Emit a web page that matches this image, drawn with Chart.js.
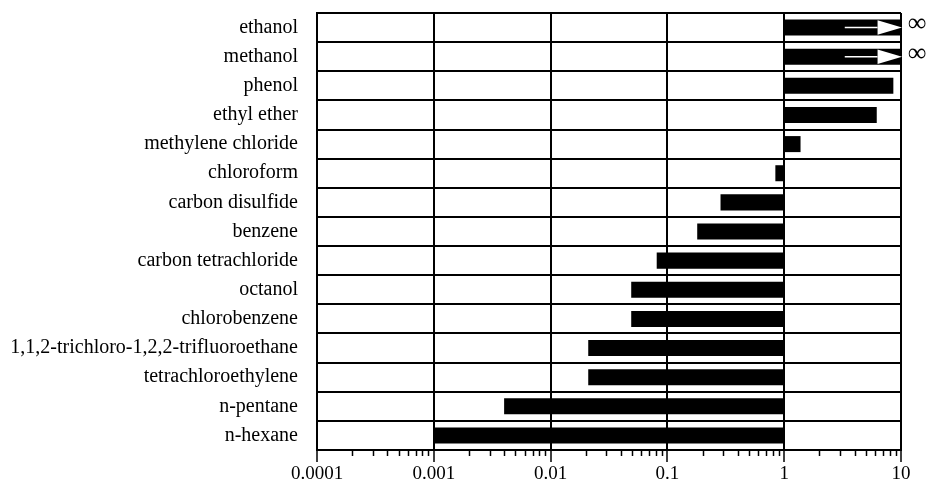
<!DOCTYPE html>
<html>
<head>
<meta charset="utf-8">
<script src="https://cdn.jsdelivr.net/npm/chart.js@4"></script>
<style>
  html, body { margin: 0; padding: 0; background: #fff; }
  #wrap { width: 928px; height: 486px; }
</style>
</head>
<body>
<div id="wrap"><canvas id="solv"></canvas></div>
<script>
// Solvents, top to bottom
const SOLVENTS = [
    'ethanol', 'methanol', 'phenol', 'ethyl ether', 'methylene chloride',
    'chloroform', 'carbon disulfide', 'benzene', 'carbon tetrachloride',
    'octanol', 'chlorobenzene', '1,1,2-trichloro-1,2,2-trifluoroethane',
    'tetrachloroethylene', 'n-pentane', 'n-hexane',
];
// bar end value (bars start at 1); Infinity = unbounded
const VALUES = [
    Infinity, Infinity, 8.6, 6.2, 1.38,
    0.84, 0.285, 0.18, 0.081,
    0.049, 0.049, 0.021,
    0.021, 0.004, 0.001,
];
const BAR_START = 1;
const TICK_VALUES = [0.0001, 0.001, 0.01, 0.1, 1, 10];
const TICK_LABELS = ['0.0001', '0.001', '0.01', '0.1', '1', '10'];

const AXIS_MIN = TICK_VALUES[0];
const AXIS_MAX = TICK_VALUES[TICK_VALUES.length - 1];
const SERIF = "'Liberation Serif', 'DejaVu Serif', serif";

const bars = VALUES.map(v => [BAR_START, Number.isFinite(v) ? v : AXIS_MAX]);

// minor log ticks (2..9 per decade) hanging under the x axis
const minorTicks = {
    id: 'minorTicks',
    afterDraw(chart) {
        const x = chart.scales.x;
        const ctx = chart.ctx;
        ctx.save();
        ctx.strokeStyle = '#000';
        ctx.lineWidth = 1.5;
        for (let d = AXIS_MIN; d < AXIS_MAX; d *= 10) {
            for (let k = 2; k <= 9; k++) {
                const px = Math.round(x.getPixelForValue(k * d)) + 0.5;
                ctx.beginPath();
                ctx.moveTo(px, x.top);
                ctx.lineTo(px, x.top + 6);
                ctx.stroke();
            }
        }
        ctx.restore();
    },
};

// white arrow inside unbounded bars plus the infinity sign past the axis end
const openEnds = {
    id: 'openEnds',
    afterDatasetsDraw(chart) {
        const x = chart.scales.x;
        const meta = chart.getDatasetMeta(0);
        const ctx = chart.ctx;
        ctx.save();
        VALUES.forEach((v, i) => {
            if (Number.isFinite(v)) return;
            const el = meta.data[i];
            const yc = el.y;
            const h = el.height;
            const tip = x.getPixelForValue(AXIS_MAX) + 1;
            const base = x.getPixelForValue(6.3);
            const tail = x.getPixelForValue(3.3);
            ctx.fillStyle = '#fff';
            ctx.strokeStyle = '#fff';
            ctx.lineWidth = 1.5;
            ctx.beginPath();
            ctx.moveTo(tail, yc);
            ctx.lineTo(base, yc);
            ctx.stroke();
            ctx.beginPath();
            ctx.moveTo(base, yc - h * 0.45);
            ctx.lineTo(tip, yc);
            ctx.lineTo(base, yc + h * 0.45);
            ctx.closePath();
            ctx.fill();
            ctx.fillStyle = '#000';
            ctx.font = `26px ${SERIF}`;
            ctx.textAlign = 'center';
            ctx.textBaseline = 'middle';
            ctx.fillText('\u221e', chart.chartArea.right + 16, yc - 3);
        });
        ctx.restore();
    },
};

new Chart(document.getElementById('solv'), {
    type: 'bar',
    data: {
        labels: SOLVENTS,
        datasets: [{
            data: bars,
            backgroundColor: '#000',
            borderWidth: 0,
            borderSkipped: false,
            barPercentage: 0.55,
            categoryPercentage: 1,
        }],
    },
    options: {
        indexAxis: 'y',
        responsive: true,
        maintainAspectRatio: false,
        animation: false,
        layout: { padding: { top: 13, right: 27, left: 0, bottom: 0 } },
        plugins: {
            legend: { display: false },
            tooltip: { enabled: false },
        },
        scales: {
            x: {
                type: 'logarithmic',
                min: AXIS_MIN,
                max: AXIS_MAX,
                afterBuildTicks: s => { s.ticks = TICK_VALUES.map(v => ({ value: v })); },
                afterFit: s => { s.height = 36; },
                grid: { color: '#000', lineWidth: 2, tickLength: 12, tickColor: '#000', tickWidth: 1.5 },
                border: { color: '#000', width: 2 },
                ticks: {
                    color: '#000',
                    padding: 1,
                    maxRotation: 0,
                    autoSkip: false,
                    font: { family: SERIF, size: 19 },
                    callback: (v, i) => TICK_LABELS[i],
                },
            },
            y: {
                // fixed label column; labels sit inside their rows so no extra end padding
                afterFit: s => { s.width = 317; s.paddingTop = 0; s.paddingBottom = 0; },
                grid: { color: '#000', lineWidth: 2, drawTicks: false, offset: true },
                border: { color: '#000', width: 2 },
                ticks: {
                    color: '#000',
                    padding: 19,
                    autoSkip: false,
                    font: { family: SERIF, size: 20 },
                },
            },
        },
    },
    plugins: [minorTicks, openEnds],
});
</script>
</body>
</html>
